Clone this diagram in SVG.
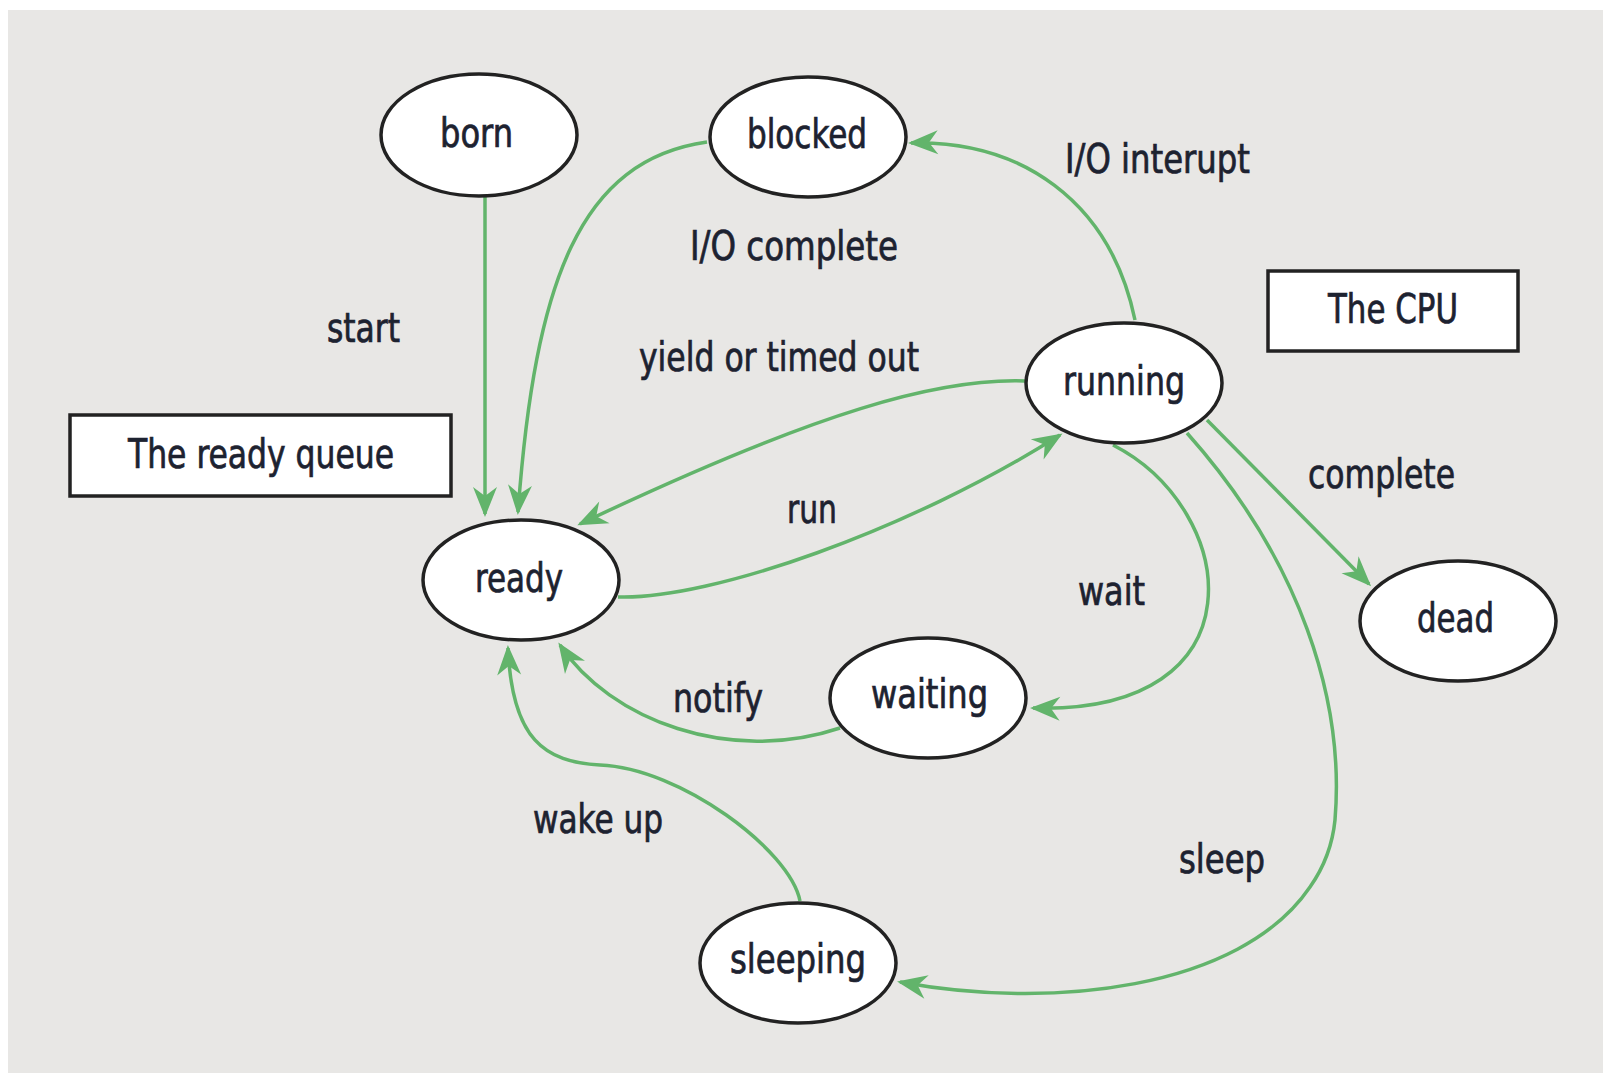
<svg xmlns="http://www.w3.org/2000/svg" width="1603" height="1075" viewBox="0 0 1603 1075">
  <style>
    .state { fill: #ffffff; stroke: #222222; stroke-width: 3.5; }
    .box { fill: #ffffff; stroke: #222222; stroke-width: 3.5; }
    .edge { fill: none; stroke: #62b46b; stroke-width: 3.5; marker-end: url(#arrow); }
    text { font-family: "Liberation Sans Narrow", "DejaVu Sans Condensed", "Liberation Sans", sans-serif; font-size: 40px; fill: #1d2230; stroke: #1d2230; stroke-width: 0.7; }
  </style>
  <defs>
    <marker id="arrow" markerUnits="userSpaceOnUse" viewBox="-30 -14 34 28" refX="0" refY="0" markerWidth="34" markerHeight="28" orient="auto">
      <path d="M3,0 L-27,-12 L-18,0 L-27,12 Z" fill="#62b46b"/>
    </marker>
  </defs>

  <!-- panel -->
  <rect x="0" y="0" width="1603" height="1075" fill="#ffffff"/>
  <rect x="8" y="10" width="1595" height="1063" fill="#e8e7e5"/>

  <!-- transitions -->
  <g id="connectors">
    <path id="e-start" class="edge" d="M485,197 L485,514"/>
    <path id="e-io-complete" class="edge" d="M707,142 C580,160 535,280 518,512"/>
    <path id="e-io-interrupt" class="edge" d="M1135,320 C1110,200 1020,140 911,143"/>
    <path id="e-yield" class="edge" d="M1025,381 C940,378 820,410 580,524"/>
    <path id="e-run" class="edge" d="M618,597 C710,600 910,530 1060,435"/>
    <path id="e-complete" class="edge" d="M1207,420 L1369,584"/>
    <path id="e-wait" class="edge" d="M1113,445 C1240,510 1265,715 1033,708"/>
    <path id="e-sleep" class="edge" d="M1187,433 C1300,560 1345,700 1335,820 C1332,850 1322,870 1310,887 C1240,990 1050,1010 900,982"/>
    <path id="e-notify" class="edge" d="M840,728 C730,765 610,720 560,645"/>
    <path id="e-wakeup" class="edge" d="M800,901 C790,850 680,768 600,765 C545,762 512,740 508,648"/>
  </g>

  <!-- transition labels -->
  <g id="labels">
    <text x="327" y="342" textLength="73" lengthAdjust="spacingAndGlyphs">start</text>
    <text x="690" y="260" textLength="208" lengthAdjust="spacingAndGlyphs">I/O complete</text>
    <text x="1065" y="173" textLength="185" lengthAdjust="spacingAndGlyphs">I/O interupt</text>
    <text x="639" y="371" textLength="280" lengthAdjust="spacingAndGlyphs">yield or timed out</text>
    <text x="787" y="523" textLength="50" lengthAdjust="spacingAndGlyphs">run</text>
    <text x="1308" y="488" textLength="147" lengthAdjust="spacingAndGlyphs">complete</text>
    <text x="1078" y="605" textLength="67" lengthAdjust="spacingAndGlyphs">wait</text>
    <text x="673" y="712" textLength="90" lengthAdjust="spacingAndGlyphs">notify</text>
    <text x="533" y="833" textLength="130" lengthAdjust="spacingAndGlyphs">wake up</text>
    <text x="1179" y="873" textLength="86" lengthAdjust="spacingAndGlyphs">sleep</text>
  </g>

  <!-- legend boxes -->
  <g id="ready-queue-box">
    <rect class="box" x="70" y="415" width="381" height="81"/>
    <text x="128" y="468" textLength="266" lengthAdjust="spacingAndGlyphs">The ready queue</text>
  </g>
  <g id="cpu-box">
    <rect class="box" x="1268" y="271" width="250" height="80"/>
    <text x="1328" y="323" textLength="130" lengthAdjust="spacingAndGlyphs">The CPU</text>
  </g>

  <!-- states -->
  <g id="born">
    <ellipse class="state" cx="479" cy="135" rx="98" ry="61"/>
    <text x="440" y="147" textLength="73" lengthAdjust="spacingAndGlyphs">born</text>
  </g>
  <g id="blocked">
    <ellipse class="state" cx="808" cy="137" rx="98" ry="60"/>
    <text x="747" y="148" textLength="120" lengthAdjust="spacingAndGlyphs">blocked</text>
  </g>
  <g id="running">
    <ellipse class="state" cx="1124" cy="383" rx="98" ry="60"/>
    <text x="1063" y="395" textLength="122" lengthAdjust="spacingAndGlyphs">running</text>
  </g>
  <g id="ready">
    <ellipse class="state" cx="521" cy="580" rx="98" ry="60"/>
    <text x="475" y="592" textLength="88" lengthAdjust="spacingAndGlyphs">ready</text>
  </g>
  <g id="dead">
    <ellipse class="state" cx="1458" cy="621" rx="98" ry="60"/>
    <text x="1417" y="632" textLength="77" lengthAdjust="spacingAndGlyphs">dead</text>
  </g>
  <g id="waiting">
    <ellipse class="state" cx="928" cy="698" rx="98" ry="60"/>
    <text x="871" y="708" textLength="117" lengthAdjust="spacingAndGlyphs">waiting</text>
  </g>
  <g id="sleeping">
    <ellipse class="state" cx="798" cy="963" rx="98" ry="60"/>
    <text x="730" y="973" textLength="136" lengthAdjust="spacingAndGlyphs">sleeping</text>
  </g>
</svg>
